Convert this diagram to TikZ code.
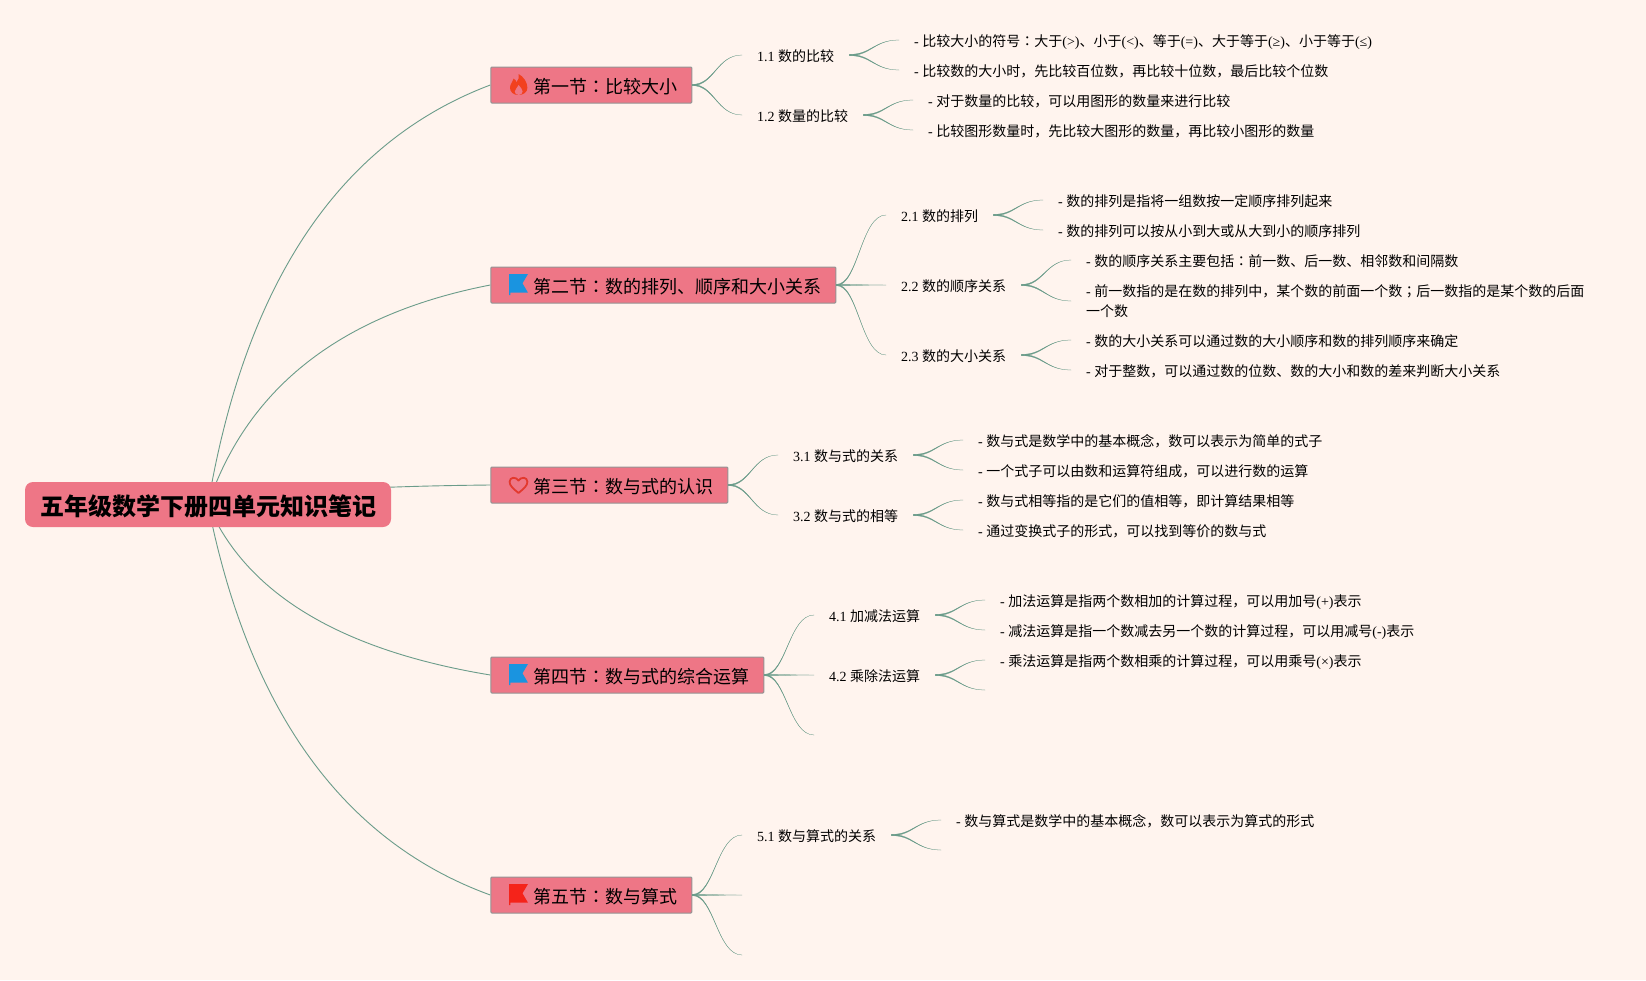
\documentclass[tikz,border=0pt]{standalone}
\usepackage{fontspec}
\setmainfont{Liberation Serif}
\newfontfamily\cjk{Noto Sans CJK SC}
\newfontfamily\tccjk{Noto Sans CJK TC}
\usetikzlibrary{backgrounds}
\newcommand{\lat}[1]{{\rmfamily #1}}
\newcommand{\midcolon}{{\tccjk ：}}
\definecolor{paper}{HTML}{FFF4EE}
\definecolor{rosefill}{HTML}{EE7686}
\definecolor{linkgreen}{HTML}{6B9C8A}
\definecolor{flagblue}{HTML}{1A94E0}
\definecolor{flagred}{HTML}{F5231A}
\definecolor{firered}{HTML}{F2401F}
\definecolor{heartred}{HTML}{E3392E}
\tikzset{
  rootbox/.style={fill=rosefill,rounded corners=8pt,minimum width=366pt,minimum height=45pt,inner sep=0pt,font=\cjk\fontsize{24}{28}\selectfont\bfseries,text height=24pt,text depth=2pt},
  secbox/.style={anchor=west,fill=rosefill,draw=black!42,line width=1pt,rounded corners=1pt,minimum height=36pt,inner ysep=0pt,inner xsep=14pt,font=\cjk\fontsize{18}{22}\selectfont,text height=19pt,text depth=2.5pt},
  subbox/.style={anchor=west,inner ysep=0pt,inner xsep=15pt,font=\cjk\fontsize{14}{20}\selectfont,text height=15pt,text depth=1.4pt},
  leafbox/.style={anchor=west,inner ysep=0pt,inner xsep=15pt,font=\cjk\fontsize{14}{20}\selectfont,text height=15pt,text depth=1.4pt},
  rootlink/.style={draw=linkgreen,line width=0.9pt},
  link/.style={fill=linkgreen,draw=linkgreen,line width=0.25pt},
  flagicon/.pic={
    \fill[pic actions] (0,0) -- (19,0) -- (13.5,9.3) -- (19,18.7) -- (1.3,18.7) -- (1.3,21) -- (0,21) -- cycle;
  },
  fireicon/.pic={
    \fill[pic actions] (8.3,21) .. controls (3.2,21) and (0,17.8) .. (0,13.6)
      .. controls (0,9.6) and (3,8.4) .. (3.6,4.6) .. controls (5.4,5.4) and (6.2,6.8) .. (6.4,8.4)
      .. controls (8.4,6.2) and (9.4,3.2) .. (8.6,0) .. controls (13.4,2.4) and (17.4,8.4) .. (17.4,13.8)
      .. controls (17.4,18) and (13.6,21) .. (8.3,21) -- cycle;
    \fill[rosefill] (8.7,21) .. controls (6,21) and (4.8,19) .. (4.8,17.4)
      .. controls (4.8,15.2) and (7.6,13.8) .. (8.6,11) .. controls (10.4,13.4) and (12.6,15.2) .. (12.6,17.4)
      .. controls (12.6,19.2) and (11,21) .. (8.7,21) -- cycle;
  },
  hearticon/.pic={
    \draw[pic actions,line width=1.8pt,line join=round] (9.5,16) .. controls (4,11.5) and (0.6,8.5) .. (0.6,4.8)
      .. controls (0.6,0) and (7,-0.6) .. (9.5,3.6) .. controls (12,-0.6) and (18.4,0) .. (18.4,4.8)
      .. controls (18.4,8.5) and (15,11.5) .. (9.5,16) -- cycle;
  },
}
\begin{document}
\begin{tikzpicture}[x=1pt,y=-1pt]
  \useasboundingbox (0,0) rectangle (1646,980);
  \node[rootbox] (root) at (208,504.5) {五年级数学下册四单元知识笔记};
  % sections
  \node[secbox] (sec1) at (490.3,85) {\hspace*{29pt}第一节\midcolon 比较大小};
  \node[secbox] (sec2) at (490.3,285) {\hspace*{29pt}第二节\midcolon 数的排列、顺序和大小关系};
  \node[secbox] (sec3) at (490.3,485) {\hspace*{29pt}第三节\midcolon 数与式的认识};
  \node[secbox] (sec4) at (490.3,675) {\hspace*{29pt}第四节\midcolon 数与式的综合运算};
  \node[secbox] (sec5) at (490.3,895) {\hspace*{29pt}第五节\midcolon 数与算式};
  \pic[fill=firered] at (510,74) {fireicon};
  \pic[fill=flagblue] at (509,274) {flagicon};
  \pic[draw=heartred] at (509,477) {hearticon};
  \pic[fill=flagblue] at (509,664) {flagicon};
  \pic[fill=flagred] at (509,884) {flagicon};
  % subtopics
  \node[subbox] (s11) at (742,55) {\lat{1.1 }数的比较};
  \node[subbox] (s12) at (742,115) {\lat{1.2 }数量的比较};
  \node[subbox] (s21) at (886,215) {\lat{2.1 }数的排列};
  \node[subbox] (s22) at (886,285) {\lat{2.2 }数的顺序关系};
  \node[subbox] (s23) at (886,355) {\lat{2.3 }数的大小关系};
  \node[subbox] (s31) at (778,455) {\lat{3.1 }数与式的关系};
  \node[subbox] (s32) at (778,515) {\lat{3.2 }数与式的相等};
  \node[subbox] (s41) at (814,615) {\lat{4.1 }加减法运算};
  \node[subbox] (s42) at (814,675) {\lat{4.2 }乘除法运算};
  \coordinate (s43) at (814,735);
  \node[subbox] (s51) at (742,835) {\lat{5.1 }数与算式的关系};
  \coordinate (s52) at (742,895);
  \coordinate (s53) at (742,955);
  % details
  \node[leafbox] (d111) at (899,40) {\lat{- }比较大小的符号\midcolon 大于\lat{(>)}、小于\lat{(<)}、等于\lat{(=)}、大于等于\lat{(≥)}、小于等于\lat{(≤)}};
  \node[leafbox] (d112) at (899,70) {\lat{- }比较数的大小时，先比较百位数，再比较十位数，最后比较个位数};
  \node[leafbox] (d121) at (913,100) {\lat{- }对于数量的比较，可以用图形的数量来进行比较};
  \node[leafbox] (d122) at (913,130) {\lat{- }比较图形数量时，先比较大图形的数量，再比较小图形的数量};
  \node[leafbox] (d211) at (1043,200) {\lat{- }数的排列是指将一组数按一定顺序排列起来};
  \node[leafbox] (d212) at (1043,230) {\lat{- }数的排列可以按从小到大或从大到小的顺序排列};
  \node[leafbox] (d221) at (1071,260) {\lat{- }数的顺序关系主要包括\midcolon 前一数、后一数、相邻数和间隔数};
  \node[leafbox,align=left,text height=,text depth=] (d222) at (1071,301) {\lat{- }前一数指的是在数的排列中，某个数的前面一个数{\tccjk ；}后一数指的是某个数的后面\\一个数};
  \node[leafbox] (d231) at (1071,340) {\lat{- }数的大小关系可以通过数的大小顺序和数的排列顺序来确定};
  \node[leafbox] (d232) at (1071,370) {\lat{- }对于整数，可以通过数的位数、数的大小和数的差来判断大小关系};
  \node[leafbox] (d311) at (963,440) {\lat{- }数与式是数学中的基本概念，数可以表示为简单的式子};
  \node[leafbox] (d312) at (963,470) {\lat{- }一个式子可以由数和运算符组成，可以进行数的运算};
  \node[leafbox] (d321) at (963,500) {\lat{- }数与式相等指的是它们的值相等，即计算结果相等};
  \node[leafbox] (d322) at (963,530) {\lat{- }通过变换式子的形式，可以找到等价的数与式};
  \node[leafbox] (d411) at (985,600) {\lat{- }加法运算是指两个数相加的计算过程，可以用加号\lat{(+)}表示};
  \node[leafbox] (d412) at (985,630) {\lat{- }减法运算是指一个数减去另一个数的计算过程，可以用减号\lat{(-)}表示};
  \node[leafbox] (d421) at (985,660) {\lat{- }乘法运算是指两个数相乘的计算过程，可以用乘号\lat{(×)}表示};
  \coordinate (d422) at (985,690);
  \node[leafbox] (d511) at (941,820) {\lat{- }数与算式是数学中的基本概念，数可以表示为算式的形式};
  \coordinate (d512) at (941,850);
  % links behind the boxes
  \begin{scope}[on background layer]
    \fill[paper] (0,0) rectangle (1646,980);
    \draw[rootlink] (root.center) .. controls (245.7,281.3) and (340.3,141.7) .. (sec1.west);
    \draw[rootlink] (root.center) .. controls (247.7,386.7) and (342.3,313.7) .. (sec2.west);
    \draw[rootlink] (root.center) .. controls (262.3,492.7) and (357,486.3) .. (sec3.west);
    \draw[rootlink] (root.center) .. controls (245.7,593.3) and (340.3,650.3) .. (sec4.west);
    \draw[rootlink] (root.center) .. controls (249,711.3) and (343.7,841.7) .. (sec5.west);
  \end{scope}
  \foreach \a/\b in {sec1/s11,sec1/s12,sec2/s21,sec2/s22,sec2/s23,sec3/s31,sec3/s32,sec4/s41,sec4/s42,sec5/s51,
    s11/d111,s11/d112,s12/d121,s12/d122,s21/d211,s21/d212,s22/d221,s22/d222,s23/d231,s23/d232,
    s31/d311,s31/d312,s32/d321,s32/d322,s41/d411,s41/d412,s42/d421,s51/d511}
    \filldraw[link] ([yshift=0.6pt]\a.east) .. controls +(22,0) and +(-25,0) .. (\b.west)
      .. controls +(-25,0) and +(22,0) .. ([yshift=-0.6pt]\a.east) -- cycle;
  \foreach \a/\b in {sec4/s43,sec5/s52,sec5/s53,s42/d422,s51/d512}
    \filldraw[link] ([yshift=0.6pt]\a.east) .. controls +(22,0) and +(-25,0) .. (\b)
      .. controls +(-25,0) and +(22,0) .. ([yshift=-0.6pt]\a.east) -- cycle;
\end{tikzpicture}
\end{document}
